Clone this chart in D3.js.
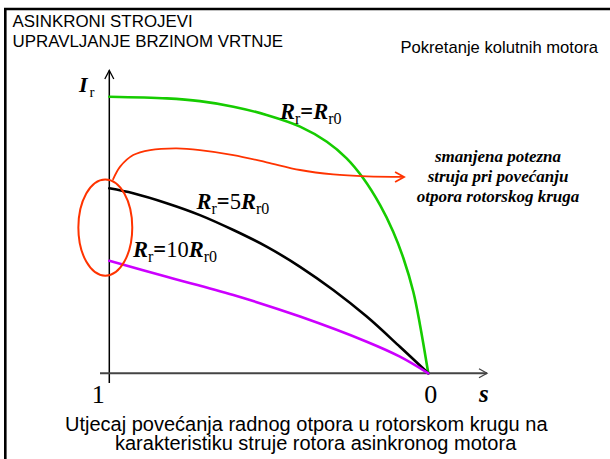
<!DOCTYPE html>
<html>
<head>
<meta charset="utf-8">
<script src="https://cdn.jsdelivr.net/npm/d3@7"></script>
<style>
  html, body { margin: 0; padding: 0; background: #fff; }
  svg { display: block; }
</style>
</head>
<body>
<svg id="chart" width="610" height="459"></svg>
<script>
// Rotor current vs. slip for three rotor resistances (s runs from 1 at standstill to 0)
const greenSlip    = [1, 0.82, 0.716, 0.611, 0.507, 0.402, 0.318, 0.256, 0.204, 0.151, 0.110, 0.078, 0.047, 0.026, 0];
const greenCurrent = [1, 0.994, 0.984, 0.964, 0.934, 0.892, 0.837, 0.777, 0.705, 0.608, 0.512, 0.416, 0.295, 0.175, 0];

const blackSlip    = [1, 0.925, 0.82, 0.716, 0.611, 0.507, 0.402, 0.298, 0.193, 0.089, 0];
const blackCurrent = [0.669, 0.651, 0.615, 0.572, 0.518, 0.458, 0.385, 0.301, 0.205, 0.096, 0];

const purpleSlip    = [1, 0.82, 0.611, 0.402, 0.193, 0.089, 0];
const purpleCurrent = [0.407, 0.349, 0.283, 0.205, 0.114, 0.060, 0];

// Callout arrow from the starting-current region to the note
const arrowSlip    = [0.989, 0.966, 0.925, 0.872, 0.789, 0.716, 0.611, 0.507, 0.402, 0.298, 0.193, 0.076];
const arrowCurrent = [0.699, 0.747, 0.789, 0.807, 0.813, 0.807, 0.789, 0.763, 0.735, 0.719, 0.712, 0.710];

// Ellipse marking the starting currents (slip / current bounds)
const ringSlip    = [0.928, 1.097];
const ringCurrent = [0.353, 0.701];

const tickLabels = ["1", "0"];
const tickSlip   = [1, 0];

const titleLines   = ["ASINKRONI STROJEVI", "UPRAVLJANJE BRZINOM VRTNJE"];
const subtitle     = "Pokretanje kolutnih motora";
const noteLines    = ["smanjena potezna", "struja pri povećanju", "otpora rotorskog kruga"];
const captionLines = ["Utjecaj povećanja radnog otpora u rotorskom krugu na",
                      "karakteristiku struje rotora asinkronog motora"];

const svg = d3.select("#chart");
const sans = "'Liberation Sans', Arial, sans-serif";
const serif = "'Liberation Serif', 'Times New Roman', serif";

const x = d3.scaleLinear().domain([1, 0]).range([109.3, 428.3]);
const y = d3.scaleLinear().domain([0, 1]).range([373.3, 96.7]);

// slide frame
svg.append("rect").attr("width", 610).attr("height", 459).attr("fill", "#fff");
svg.append("path").attr("d", "M5.3,459 V9 H610")
  .attr("fill", "none").attr("stroke", "#000").attr("stroke-width", 2.6);

// heading texts
svg.append("g").selectAll("text").data(titleLines).join("text")
  .attr("x", 12.5).attr("y", (d, i) => 27 + i * 20)
  .attr("font-family", sans).attr("font-size", 16.9).attr("fill", "#000")
  .text(d => d);
svg.append("text").attr("x", 400.5).attr("y", 53)
  .attr("font-family", sans).attr("font-size", 16.6).attr("fill", "#000")
  .text(subtitle);

// axes
const axes = svg.append("g").attr("fill", "none");
axes.append("line").attr("x1", x(1)).attr("x2", x(1)).attr("y1", 383).attr("y2", 70.5)
  .attr("stroke", "#000").attr("stroke-width", 1.5);
axes.append("path").attr("d", `M${x(1) - 4.5},79 L${x(1)},70.5 L${x(1) + 4.5},79`)
  .attr("stroke", "#000").attr("stroke-width", 1.3);
axes.append("line").attr("x1", 100).attr("x2", 487).attr("y1", y(0)).attr("y2", y(0))
  .attr("stroke", "#444").attr("stroke-width", 2);
axes.append("path").attr("d", `M479,${y(0) - 4.5} L487,${y(0)} L479,${y(0) + 4.5}`)
  .attr("stroke", "#444").attr("stroke-width", 1.3);

// tick labels
const tickOffset = [-11, 2.5];
svg.append("g").selectAll("text").data(tickLabels).join("text")
  .attr("x", (d, i) => x(tickSlip[i]) + tickOffset[i]).attr("y", 403)
  .attr("text-anchor", "middle")
  .attr("font-family", serif).attr("font-size", 26).attr("fill", "#000")
  .text(d => d);
svg.append("text").attr("x", 479).attr("y", 402)
  .attr("font-family", serif).attr("font-size", 25)
  .attr("font-weight", "bold").attr("font-style", "italic").text("s");

// axis title I_r
const iLab = svg.append("text").attr("x", 79).attr("y", 91.5)
  .attr("font-family", serif).attr("fill", "#000");
iLab.append("tspan").attr("font-size", 22).attr("font-weight", "bold").attr("font-style", "italic").text("I");
iLab.append("tspan").attr("font-size", 15).attr("dx", 2).attr("dy", 5.5).text("r");

// curves
const line = d3.line().x(d => x(d[0])).y(d => y(d[1])).curve(d3.curveCatmullRom.alpha(0.5));
const curves = [
  { s: greenSlip,  c: greenCurrent,  color: "#16cc00", w: 2.6 },
  { s: blackSlip,  c: blackCurrent,  color: "#000000", w: 2.6 },
  { s: purpleSlip, c: purpleCurrent, color: "#cc00ff", w: 2.6 }
];
svg.append("g").selectAll("path").data(curves).join("path")
  .attr("fill", "none")
  .attr("stroke", d => d.color).attr("stroke-width", d => d.w)
  .attr("stroke-linecap", "round")
  .attr("d", d => line(d.s.map((v, i) => [v, d.c[i]])));

// red ellipse
const red = "#ff3300";
svg.append("ellipse")
  .attr("cx", (x(ringSlip[0]) + x(ringSlip[1])) / 2)
  .attr("cy", (y(ringCurrent[0]) + y(ringCurrent[1])) / 2)
  .attr("rx", Math.abs(x(ringSlip[0]) - x(ringSlip[1])) / 2)
  .attr("ry", Math.abs(y(ringCurrent[0]) - y(ringCurrent[1])) / 2)
  .attr("fill", "none").attr("stroke", red).attr("stroke-width", 2);

// red callout arrow
const arrowPts = arrowSlip.map((v, i) => [v, arrowCurrent[i]]);
svg.append("path").attr("fill", "none").attr("stroke", red).attr("stroke-width", 1.8)
  .attr("d", line(arrowPts));
const tip = arrowPts[arrowPts.length - 1];
const tx = x(tip[0]), ty = y(tip[1]);
svg.append("path").attr("fill", "none").attr("stroke", red).attr("stroke-width", 1.8)
  .attr("stroke-linejoin", "miter")
  .attr("d", `M${tx - 9},${ty - 5} L${tx},${ty} L${tx - 9},${ty + 5}`);

// R_r labels
function rLabel(px, py, mult) {
  const t = svg.append("text").attr("x", px).attr("y", py)
    .attr("font-family", serif).attr("fill", "#000");
  t.append("tspan").attr("font-size", 22.5).attr("font-weight", "bold").attr("font-style", "italic").text("R");
  t.append("tspan").attr("font-size", 16).attr("dy", 5).text("r");
  t.append("tspan").attr("font-size", 22.5).attr("font-weight", "bold").attr("dy", -5).text("=");
  if (mult) t.append("tspan").attr("font-size", 22.5).text(mult);
  t.append("tspan").attr("font-size", 22.5).attr("font-weight", "bold").attr("font-style", "italic").text("R");
  t.append("tspan").attr("font-size", 16).attr("dy", 5).text("r0");
}
rLabel(280, 119, "");
rLabel(196.5, 208.5, "5");
rLabel(133, 256.5, "10");

// note
svg.append("g").selectAll("text").data(noteLines).join("text")
  .attr("x", 498).attr("y", (d, i) => 162 + i * 20)
  .attr("text-anchor", "middle")
  .attr("font-family", serif).attr("font-size", 17)
  .attr("font-weight", "bold").attr("font-style", "italic").attr("fill", "#000")
  .text(d => d);

// caption
const capX = [65, 115];
svg.append("g").selectAll("text").data(captionLines).join("text")
  .attr("x", (d, i) => capX[i]).attr("y", (d, i) => 431 + i * 19)
  .attr("font-family", sans).attr("font-size", 20).attr("fill", "#000")
  .text(d => d);
</script>
</body>
</html>
